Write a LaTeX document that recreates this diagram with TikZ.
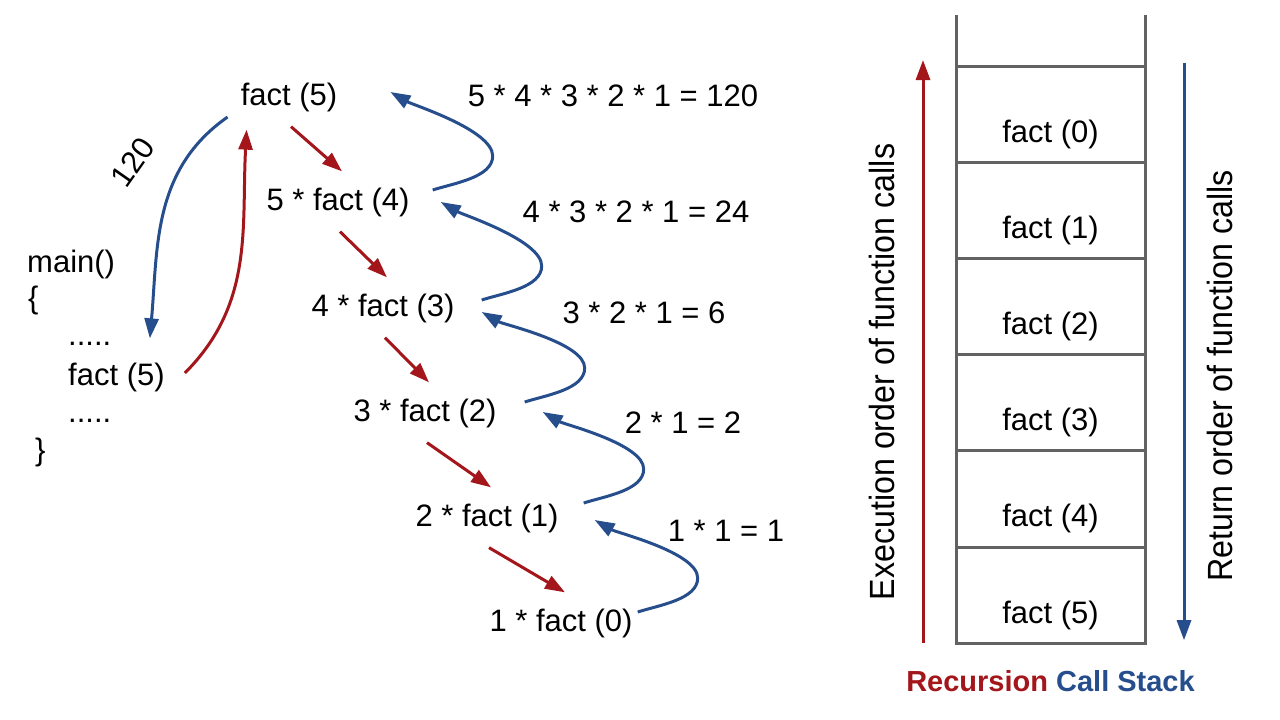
\documentclass[tikz,border=0pt]{standalone}
\usepackage{fontspec}
\setmainfont{Liberation Sans}
\newfontfamily\narrowfont[FakeStretch=0.92]{Liberation Sans}
\usetikzlibrary{arrows.meta,positioning,calc}
\definecolor{callred}{RGB}{163,22,27}
\definecolor{retblue}{RGB}{38,78,140}
\definecolor{stackgray}{RGB}{98,98,98}
\tikzset{
  >={Triangle[length=20pt,width=14pt]},
  lbl/.style={inner sep=0pt,font=\fontsize{31}{37}\selectfont},
  side lbl/.style={inner sep=0pt,rotate=90,font=\narrowfont\fontsize{35}{40}\selectfont},
  call/.style={->,line width=3pt,draw=callred},
  ret/.style={->,line width=3pt,draw=retblue},
  cell/.style={draw=stackgray,line width=3pt,minimum width=189pt,minimum height=96.2pt,
    inner sep=0pt,outer sep=0pt},
  stackline/.style={draw=stackgray,line width=3pt},
}

\begin{document}
\begin{tikzpicture}[x=1pt,y=1pt]
  \useasboundingbox (0,0) rectangle (1280,-720);
  % recursion tree
  \foreach \i/\x/\y/\t in {5/289/97/{fact (5)},4/338/202/{5 * fact (4)},3/383/308/{4 * fact (3)},
    2/425/413/{3 * fact (2)},1/487/518/{2 * fact (1)},0/561/623/{1 * fact (0)}}
    \node[lbl] (n\i) at (\x,-\y) {\t};
  \foreach \i/\x/\y/\t in {5/613/96/{5 * 4 * 3 * 2 * 1 = 120},4/636/212/{4 * 3 * 2 * 1 = 24},
    3/644/313/{3 * 2 * 1 = 6},2/683/423/{2 * 1 = 2},1/726/531/{1 * 1 = 1}}
    \node[lbl] (v\i) at (\x,-\y) {\t};
  \foreach \a/\b in {5/4,4/3,3/2,2/1,1/0}
    \draw[call] ([shift={(2,-15)}]n\a.south) -- ([shift={(4,16)}]n\b.north);
  \foreach \a/\b/\sx/\sy/\ex/\ey in {0/1/5/11/36/-2,1/2/25/15/46/1,2/3/28/11/27/-4,3/4/27/8/31/0,4/5/23/12/53/5}
    \draw[ret] ([shift={(\sx,\sy)}]n\a.east) to[out=18,in=-90,looseness=0.8] ++(60,34)
      to[out=90,in=-30,looseness=0.55] ([shift={(\ex,\ey)}]n\b.east);

  % main()
  \node[lbl,anchor=west] (mainfn) at (27,-264) {main()};
  \node[lbl,anchor=west] (obrace) at (28,-300) {\{};
  \node[lbl,anchor=base west] (dotsa) at (68,-345) {.....};
  \node[lbl,anchor=west] (m5) at (68,-377) {fact (5)};
  \node[lbl,anchor=base west] (dotsb) at (68,-422) {.....};
  \node[lbl,anchor=west] (cbrace) at (35,-452) {\}};
  \draw[ret] ([shift={(-13,-20)}]n5.west) to[out=215,in=85] ([shift={(-15,24)}]m5.north east);
  \draw[call] ([shift={(20,4)}]m5.east) to[out=45,in=-93] ([shift={(6,-18)}]n5.south west);
  \node[lbl,rotate=55] (ret120) at (133,-162) {120};

  % call stack
  \foreach \k in {0,...,5}{
    \node[cell] (c\k) at (1050.5,{-114.1-96.2*\k}) {};
    \node[lbl] (s\k) at ([yshift=-20pt]c\k.center) {fact (\k)};
  }
  \draw[stackline] (c0.north west) -- ++(0,51) (c0.north east) -- ++(0,51);
  \draw[call] ([xshift=-33pt]c5.south west) -- ([shift={(-33,6)}]c0.north west);
  \draw[ret] ([shift={(39,3)}]c0.north east) -- ([shift={(39,3)}]c5.south east);
  \node[side lbl] (exec) at (882,-372) {Execution order of function calls};
  \node[side lbl] (back) at (1220,-376) {Return order of function calls};
  \node[inner sep=0pt,font=\fontsize{29}{34}\selectfont\bfseries,below=27pt of c5] (title)
    {\textcolor{callred}{Recursion} \textcolor{retblue}{Call Stack}};
\end{tikzpicture}
\end{document}
